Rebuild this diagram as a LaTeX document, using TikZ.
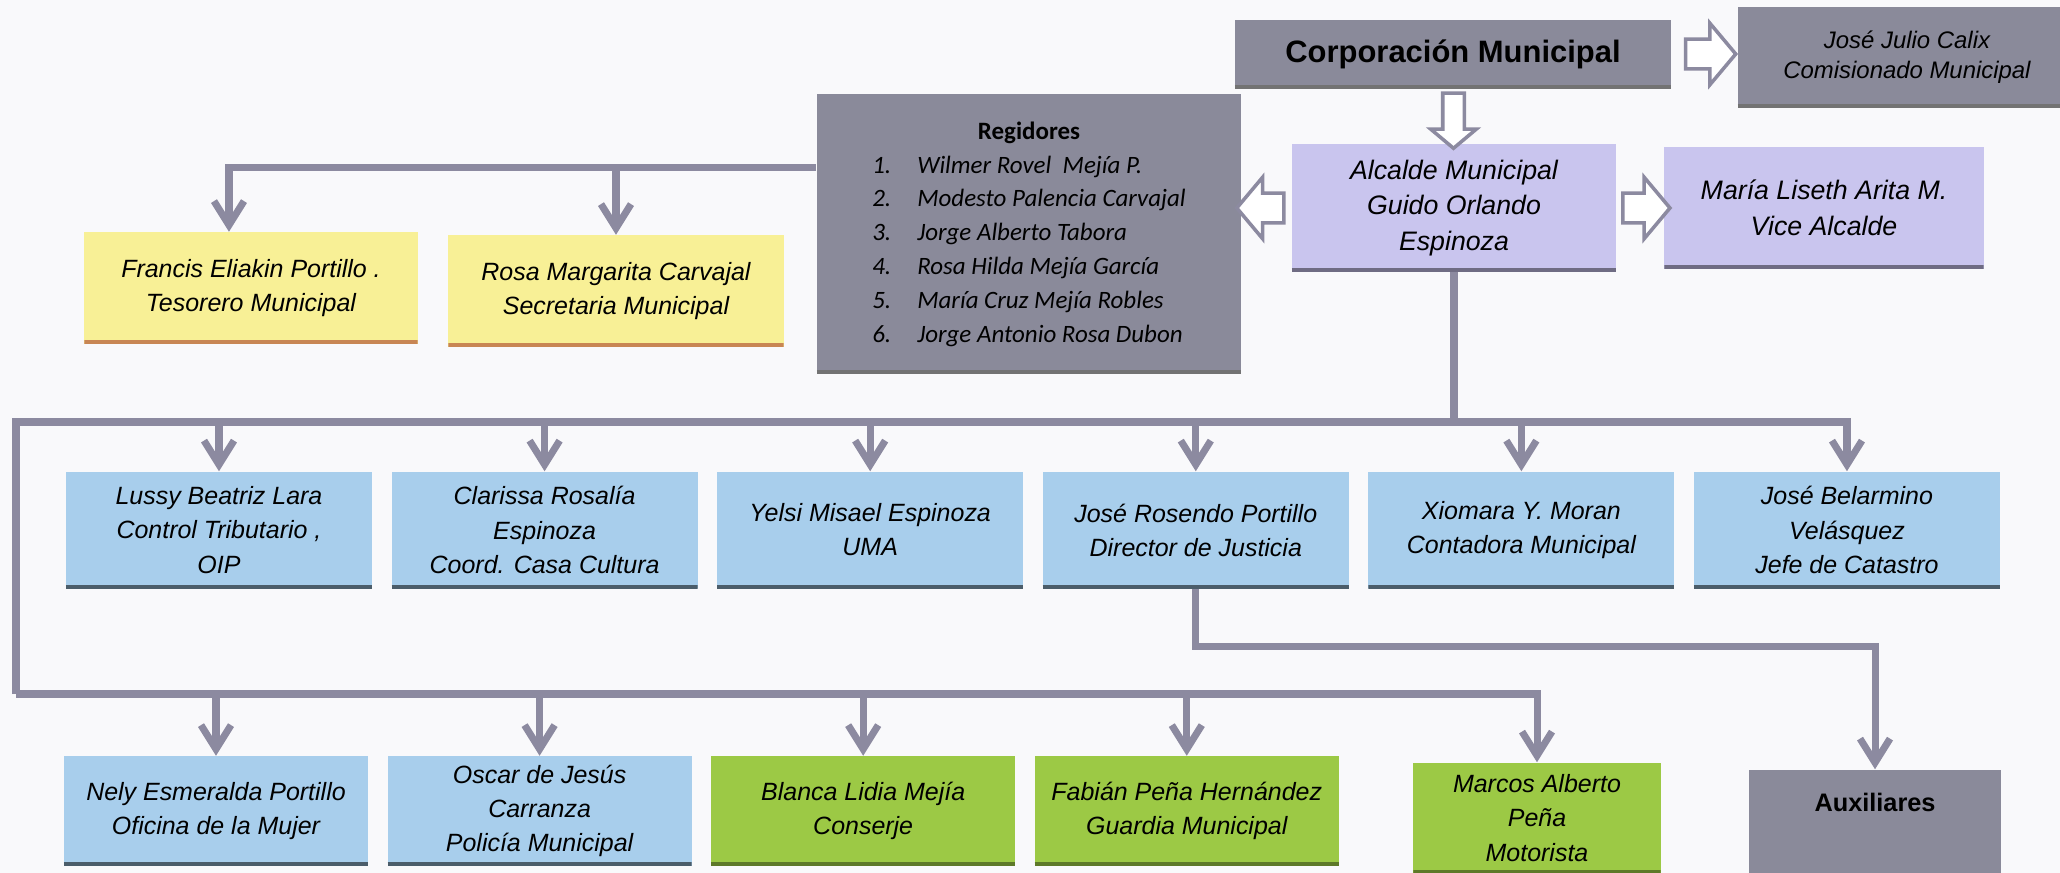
\documentclass[tikz,border=0pt]{standalone}
\usepackage{fontspec}
\setmainfont{Liberation Sans}
\newfontfamily\regfont{Carlito}
\usetikzlibrary{arrows.meta,calc,shapes.arrows}
\usetikzlibrary{positioning}
\definecolor{cbg}{RGB}{249,249,251}
\definecolor{cgray}{RGB}{138,138,154}
\definecolor{clav}{RGB}{201,197,238}
\definecolor{cyel}{RGB}{248,240,150}
\definecolor{cblue}{RGB}{168,206,236}
\definecolor{cgreen}{RGB}{156,201,69}
\definecolor{cline}{RGB}{140,138,160}

\begin{document}
\begin{tikzpicture}[x=0.01cm,y=-0.01cm,
  shadowline/.style={path picture={\draw[#1,line width=2pt](path picture bounding box.south west)--(path picture bounding box.south east);}},
  box/.style={align=center,inner sep=2pt,font=\fontsize{7.1}{9.7}\selectfont\itshape},
  graybox/.style={box,fill=cgray,shadowline=black!55},
  lavbox/.style={box,fill=clav,shadowline=clav!55!black,font=\fontsize{7.6}{10.2}\selectfont\itshape},
  yelbox/.style={box,fill=cyel,shadowline=red!30!cyel!80!black,minimum height=1.11cm},
  bluebox/.style={box,fill=cblue,shadowline=cblue!45!black,minimum width=3.06cm},
  greenbox/.style={box,fill=cgreen,shadowline=cgreen!60!black,minimum width=3.04cm,minimum height=1.09cm},
  conn/.style={draw=cline,line width=2pt},
  arr/.style={-{Straight Barb[length=0.24cm,width=0.3cm]}},
  hollow/.style={single arrow,draw=cline,fill=white,line width=1pt,inner xsep=0pt,inner ysep=0.13cm,
    single arrow head extend=0.16cm,single arrow tip angle=100,minimum height=0.5cm}]
\useasboundingbox[fill=cbg](0,0)rectangle(2060,873);

\node (corp) [graybox,minimum width=4.36cm,minimum height=0.68cm,font=\fontsize{8.8}{10}\selectfont\bfseries] at (1453,54) {Corporación Municipal};
\node (calix) [graybox,minimum width=3.38cm,minimum height=1cm,font=\fontsize{6.8}{8.6}\selectfont\itshape] at (1907,57) {José Julio Calix\\Comisionado Municipal};
\node (reg) [graybox,minimum width=4.24cm,minimum height=2.79cm,font=\regfont\itshape\fontsize{7.1}{9.6}\selectfont] at (1029,234) {%
  \raisebox{0.12cm}{\begin{tabular}{@{}p{0.45cm}@{}l@{}}
  \multicolumn{2}{c}{\upshape\bfseries Regidores}\\
  1.&Wilmer Rovel\ \ Mejía P.\\
  2.&Modesto Palencia Carvajal\\
  3.&Jorge Alberto Tabora\\
  4.&Rosa Hilda Mejía García\\
  5.&María Cruz Mejía Robles\\
  6.&Jorge Antonio Rosa Dubon
  \end{tabular}}};
\node (alc) [lavbox,minimum width=3.24cm,minimum height=1.27cm] at (1454,208) {Alcalde Municipal\\Guido Orlando\\Espinoza};
\node (mar) [lavbox,minimum width=3.19cm,minimum height=1.21cm] at (1824,208) {María Liseth Arita M.\\Vice Alcalde};
\node (fran) [yelbox,minimum width=3.33cm] at (251,288) {Francis Eliakin Portillo .\\Tesorero Municipal};
\node (ros) [yelbox,minimum width=3.35cm] at (616,291) {Rosa Margarita Carvajal\\Secretaria Municipal};

\node (lussy) [bluebox,minimum height=1.16cm] at (219,530) {Lussy Beatriz Lara\\Control Tributario ,\\OIP};
\node (clar) [bluebox,minimum height=1.16cm,right=0.18cm of lussy] {Clarissa Rosalía\\Espinoza\\Coord. Casa Cultura};
\node (yel) [bluebox,minimum height=1.16cm,right=0.18cm of clar] {Yelsi Misael Espinoza\\UMA};
\node (jr) [bluebox,minimum height=1.16cm,right=0.18cm of yel] {José Rosendo Portillo\\Director de Justicia};
\node (xio) [bluebox,minimum height=1.16cm,right=0.18cm of jr] {Xiomara Y. Moran\\Contadora Municipal};
\node (jb) [bluebox,minimum height=1.16cm,right=0.18cm of xio] {José Belarmino\\Velásquez\\Jefe de Catastro};

\node (nely) [bluebox,minimum width=3.04cm,minimum height=1.09cm] at (216,811) {Nely Esmeralda Portillo\\Oficina de la Mujer};
\node (osc) [bluebox,minimum width=3.04cm,minimum height=1.09cm,right=0.18cm of nely] {Oscar de Jesús\\Carranza\\Policía Municipal};
\node (bla) [greenbox,right=0.18cm of osc] {Blanca Lidia Mejía\\Conserje};
\node (fab) [greenbox,right=0.18cm of bla] {Fabián Peña Hernández\\Guardia Municipal};
\node (marc) [greenbox,minimum width=2.47cm,minimum height=1.1cm] at (1537,818) {Marcos Alberto\\Peña\\Motorista};
\node (aux) [graybox,minimum width=2.51cm,minimum height=1.1cm,text depth=0.46cm,font=\fontsize{7.2}{9}\selectfont\bfseries] at (1875,825) {Auxiliares};

\node (h1) [hollow] at ($(corp.east)!0.5!(corp.east-|calix.west)$) {};
\node (h2) [hollow,shape border rotate=270,inner xsep=0.09cm,inner ysep=0pt,single arrow head extend=0.12cm,minimum height=0.55cm] at ($(corp.south)!0.5!(alc.north)$) {};
\node (h3) [hollow,shape border rotate=180,minimum height=0.47cm] at ($(alc.west)!0.5!(alc.west-|reg.east)$) {};
\node (h4) [hollow,minimum height=0.47cm] at ($(alc.east)!0.5!(alc.east-|mar.west)$) {};

\coordinate (rb) at ([yshift=0.66cm]reg.west);
\coordinate (b1) at (16,422);
\coordinate (b2) at (16,694);
\draw[conn,arr](rb)-|([xshift=-0.22cm]fran.north);
\draw[conn,arr](ros.north|-rb)--(ros.north);
\draw[conn](alc.south)--(alc.south|-b1);
\draw[conn,arr](b2)--(b1)-|(jb.north);
\foreach \n in {lussy,clar,yel,jr,xio}\draw[conn,arr](\n.north|-b1)--(\n.north);
\draw[conn,arr](b2)-|(marc.north);
\foreach \n in {nely,osc,bla,fab}\draw[conn,arr](\n.north|-b2)--(\n.north);
\draw[conn,arr](jr.south)--++(0,58)-|(aux.north);
\end{tikzpicture}
\end{document}
